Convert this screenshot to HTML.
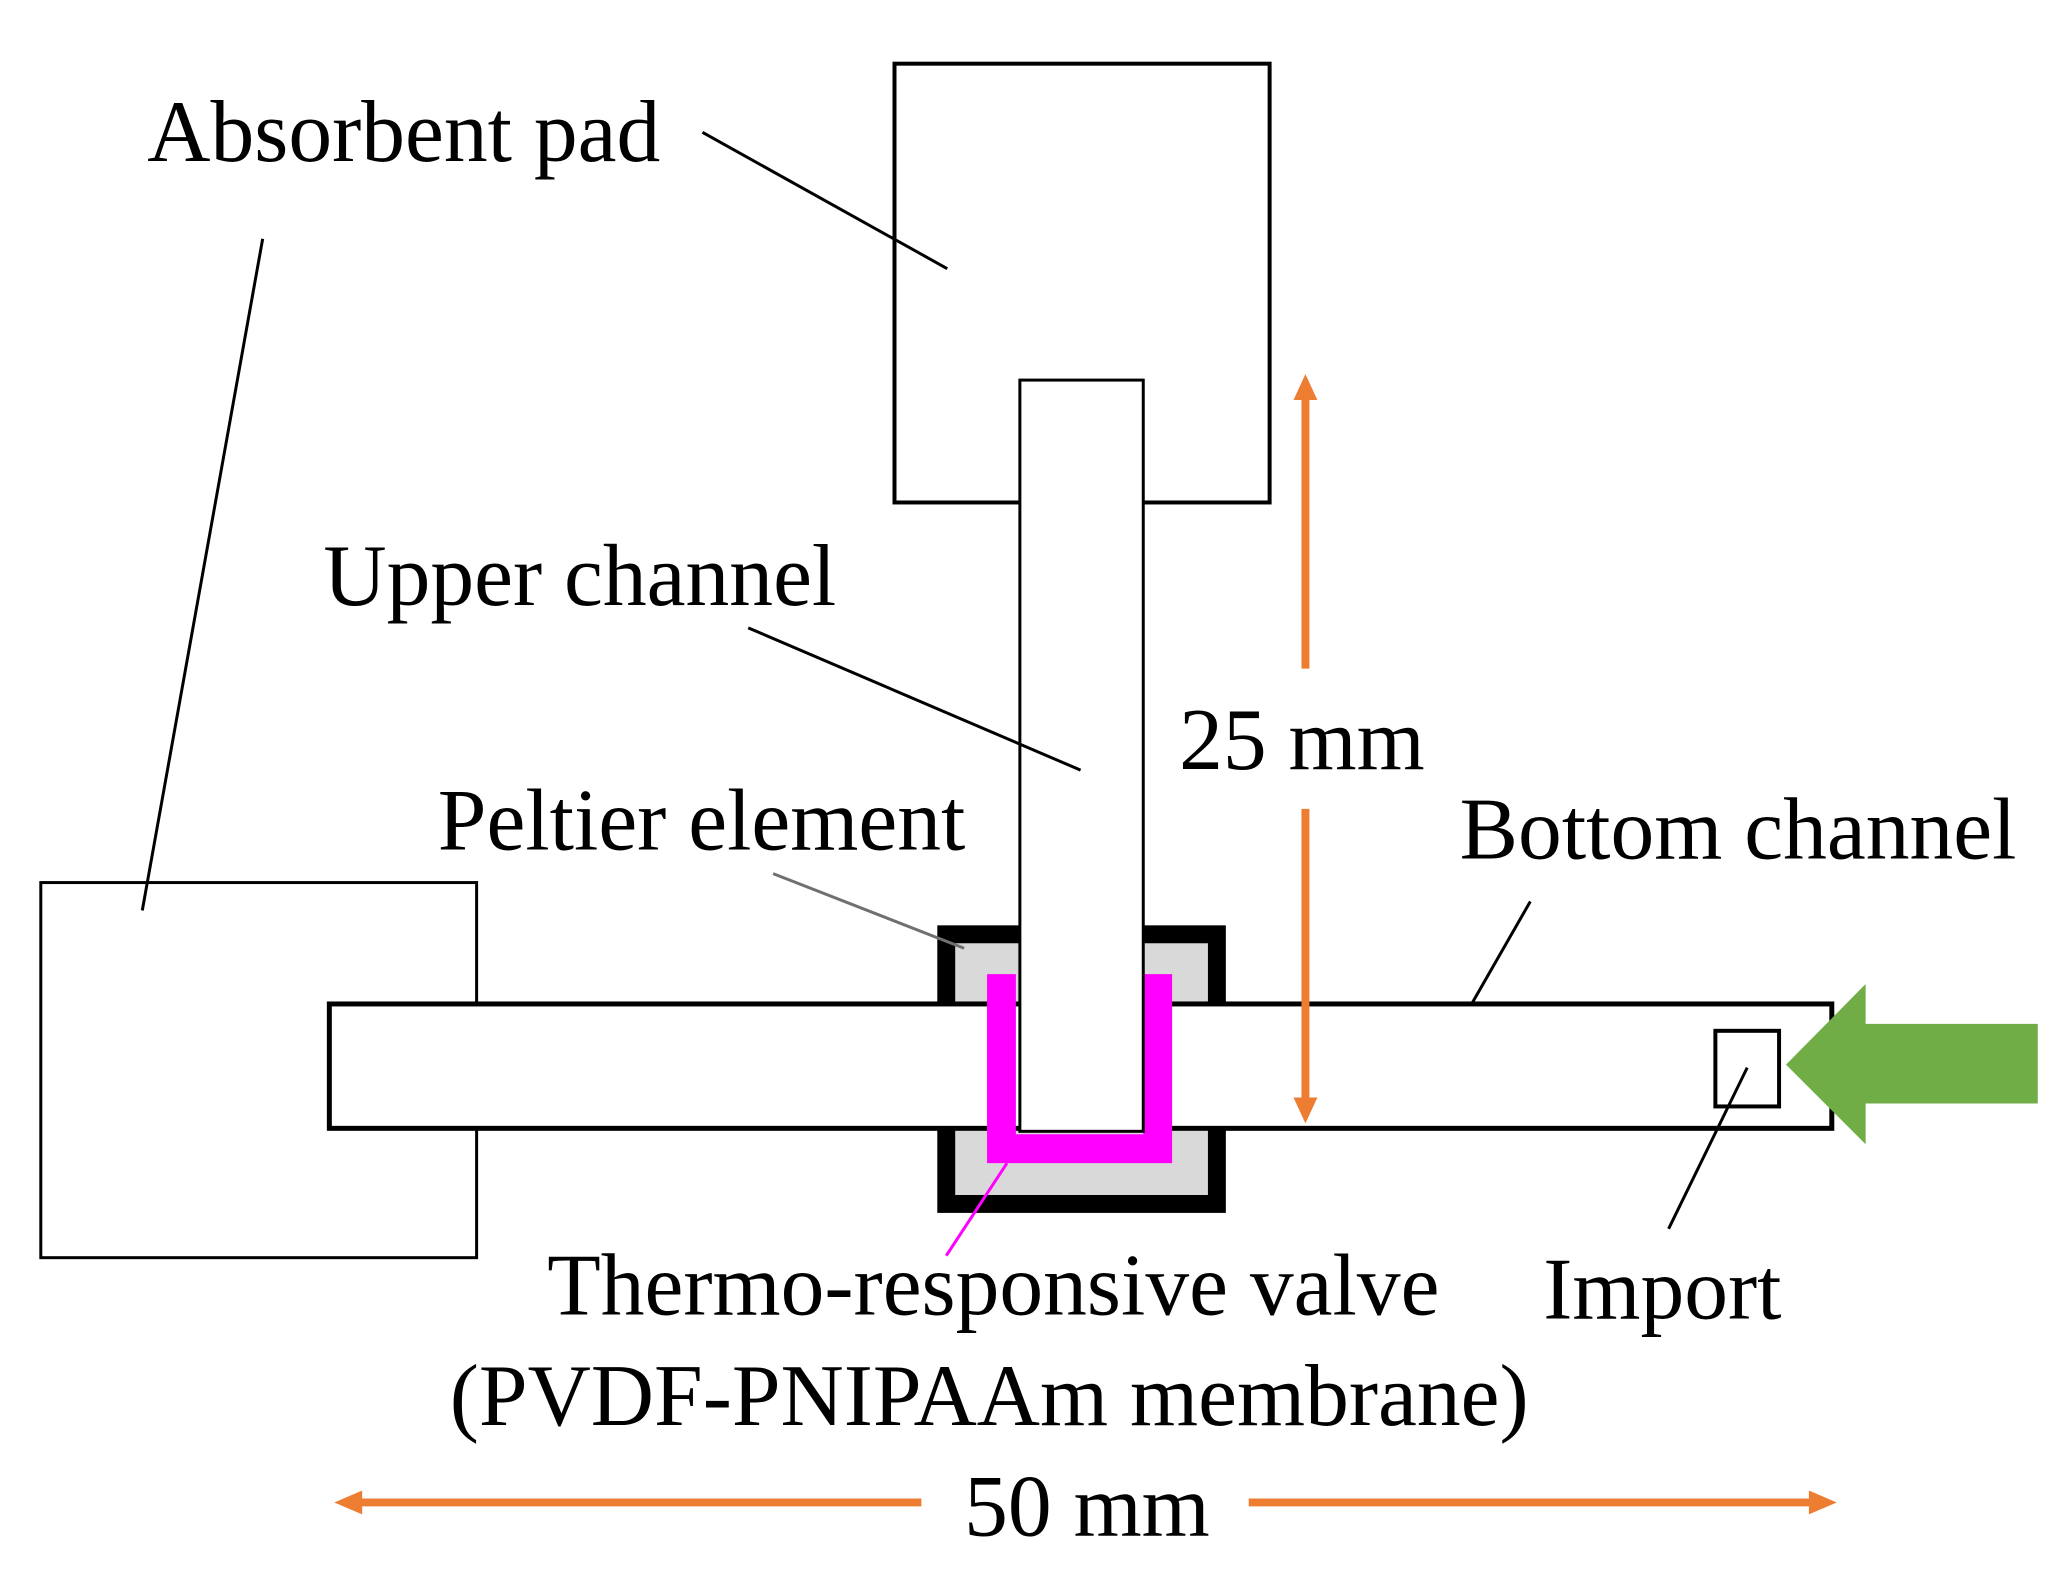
<!DOCTYPE html>
<html><head><meta charset="utf-8"><style>html,body{margin:0;padding:0;background:#fff}svg{display:block}</style></head>
<body>
<svg width="2072" height="1580" viewBox="0 0 2072 1580" xmlns="http://www.w3.org/2000/svg" font-family="Liberation Serif, serif" font-size="88">
<rect width="2072" height="1580" fill="#fff"/>
<g transform="scale(0.995)">
<rect x="899" y="64" width="377" height="441" fill="#fff" stroke="#000" stroke-width="4"/>
<rect x="41" y="887" width="438" height="377" fill="#fff" stroke="#000" stroke-width="3"/>
<rect x="951" y="939" width="272" height="271" fill="#d9d9d9" stroke="#000" stroke-width="18"/>
<rect x="331" y="1009" width="1510" height="125" fill="#fff" stroke="#000" stroke-width="5"/>
<path d="M1006.5 979 V1154.5 H1163.5 V979" fill="none" stroke="#ff00ff" stroke-width="29"/>
<rect x="1025" y="382" width="124" height="755" fill="#fff" stroke="#000" stroke-width="3"/>
<rect x="1724" y="1036" width="64" height="76" fill="none" stroke="#000" stroke-width="4"/>
<polygon points="1795,1070 1875,989 1875,1029 2048,1029 2048,1109 1875,1109 1875,1150" fill="#70ad47"/>
<g stroke="#ed7d31" stroke-width="8" fill="#ed7d31">
<line x1="1312" y1="395" x2="1312" y2="672"/>
<line x1="1312" y1="813" x2="1312" y2="1110"/>
<line x1="355" y1="1510" x2="926" y2="1510"/>
<line x1="1255" y1="1510" x2="1827" y2="1510"/>
</g>
<g fill="#ed7d31">
<polygon points="1312,376 1300,402 1324,402"/>
<polygon points="1312,1129 1300,1103 1324,1103"/>
<polygon points="336,1510 364,1498 364,1522"/>
<polygon points="1846,1510 1818,1498 1818,1522"/>
</g>
<g stroke="#000" stroke-width="3">
<line x1="706" y1="133" x2="952" y2="270"/>
<line x1="264" y1="240" x2="143" y2="915"/>
<line x1="752" y1="631" x2="1086" y2="774"/>
<line x1="1538" y1="906" x2="1479" y2="1009"/>
<line x1="1756" y1="1073" x2="1677" y2="1235"/>
</g>
<line x1="777" y1="878" x2="969" y2="953" stroke="#707070" stroke-width="3"/>
<line x1="1012" y1="1169" x2="951" y2="1262" stroke="#ff00ff" stroke-width="3"/>
<g fill="#000">
<text x="148" y="162">Absorbent pad</text>
<text x="325" y="608">Upper channel</text>
<text x="1185" y="773">25 mm</text>
<text x="440" y="854">Peltier element</text>
<text x="1467" y="863">Bottom channel</text>
<text x="550" y="1321">Thermo-responsive valve</text>
<text x="1551" y="1325">Import</text>
<text x="452" y="1432">(PVDF-PNIPAAm membrane)</text>
<text x="969" y="1543">50 mm</text>
</g>
</g>
</svg>
</body></html>
